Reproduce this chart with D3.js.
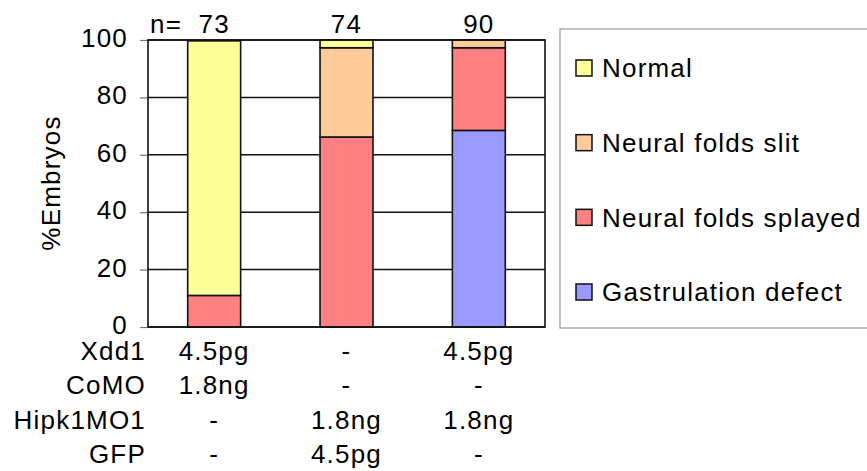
<!DOCTYPE html>
<html>
<head>
<meta charset="utf-8">
<script src="https://d3js.org/d3.v7.min.js"></script>
<style>
  body { margin: 0; background: #fff; }
  text { font-family: "Liberation Sans", Arial, sans-serif; fill: #000; letter-spacing: 1.2px; }
</style>
</head>
<body>
<svg id="chart"></svg>
<script>
// Data
const groups = ["A", "B", "C"];
const counts = [73, 74, 90];
const seriesNames = ["Gastrulation defect", "Neural folds splayed", "Neural folds slit", "Normal"];
const seriesColors = ["#9999ff", "#ff8080", "#ffcc99", "#ffff99"];
const gastrulation = [0, 0, 68.5];
const splayed = [11, 66.2, 28.8];
const slit = [0, 31.1, 2.7];
const normal = [88.7, 2.7, 0];
const rowLabels = ["Xdd1", "CoMO", "Hipk1MO1", "GFP"];
const rowValues = [
  ["4.5pg", "-", "4.5pg"],
  ["1.8ng", "-", "-"],
  ["-", "1.8ng", "1.8ng"],
  ["-", "4.5pg", "-"]
];
const yTicks = [0, 20, 40, 60, 80, 100];

const width = 867, height = 471;
const svg = d3.select("#chart").attr("width", width).attr("height", height);

const plot = { left: 148, right: 545, top: 40, bottom: 327 };

const x = d3.scaleBand()
  .domain(groups)
  .range([plot.left, plot.right])
  .paddingInner(0.6)
  .paddingOuter(0.3);

const y = d3.scaleLinear()
  .domain([0, 100])
  .range([plot.bottom, plot.top]);

// plot background + gridlines
svg.append("rect")
  .attr("x", plot.left).attr("y", plot.top)
  .attr("width", plot.right - plot.left).attr("height", plot.bottom - plot.top)
  .attr("fill", "#fff");

svg.append("g")
  .selectAll("line")
  .data(yTicks)
  .enter().append("line")
  .attr("x1", plot.left).attr("x2", plot.right)
  .attr("y1", d => y(d)).attr("y2", d => y(d))
  .attr("stroke", "#111").attr("stroke-width", 1.5);

// y axis
const yAxis = svg.append("g")
  .attr("transform", `translate(${plot.left},0)`)
  .call(d3.axisLeft(y).tickValues(yTicks).tickSize(8).tickPadding(12));
yAxis.select(".domain").remove();
yAxis.selectAll(".tick line").attr("stroke", "#777").attr("stroke-width", 1.2);
yAxis.selectAll(".tick text")
  .attr("font-size", 26).attr("dy", "0.25em").attr("y", 0)
  .style("font-family", "'Liberation Sans', Arial, sans-serif")
  .attr("fill", "#000");

// stacked bars
const table = groups.map((g, i) => ({
  group: g,
  "Gastrulation defect": gastrulation[i],
  "Neural folds splayed": splayed[i],
  "Neural folds slit": slit[i],
  "Normal": normal[i]
}));
const stack = d3.stack().keys(seriesNames)(table);
const color = d3.scaleOrdinal().domain(seriesNames).range(seriesColors);

svg.append("g")
  .selectAll("g")
  .data(stack)
  .enter().append("g")
  .attr("fill", d => color(d.key))
  .selectAll("rect")
  .data(d => d.filter(p => p[1] - p[0] > 0))
  .enter().append("rect")
  .attr("x", d => x(d.data.group))
  .attr("width", x.bandwidth())
  .attr("y", d => y(d[1]))
  .attr("height", d => y(d[0]) - y(d[1]))
  .attr("stroke", "#111")
  .attr("stroke-width", 1.6);

// frame
svg.append("rect")
  .attr("x", plot.left).attr("y", plot.top)
  .attr("width", plot.right - plot.left).attr("height", plot.bottom - plot.top)
  .attr("fill", "none").attr("stroke", "#111").attr("stroke-width", 1.6);

// y title
svg.append("text")
  .attr("transform", `translate(60, 183) rotate(-90)`)
  .attr("text-anchor", "middle")
  .attr("font-size", 26)
  .text("%Embryos");

// n= row
svg.append("text")
  .attr("x", 150).attr("y", 33)
  .attr("font-size", 26)
  .text("n=");
svg.append("g")
  .selectAll("text")
  .data(groups)
  .enter().append("text")
  .attr("x", d => x(d) + x.bandwidth() / 2)
  .attr("y", 33)
  .attr("text-anchor", "middle")
  .attr("font-size", 26)
  .text((d, i) => counts[i]);

// treatment table under axis
const rowY = d3.scalePoint().domain(rowLabels).range([360, 463]);

svg.append("g")
  .selectAll("text")
  .data(rowLabels)
  .enter().append("text")
  .attr("x", 146)
  .attr("y", d => rowY(d))
  .attr("text-anchor", "end")
  .attr("font-size", 26)
  .text(d => d);

rowLabels.forEach((r, ri) => {
  svg.append("g")
    .selectAll("text")
    .data(groups)
    .enter().append("text")
    .attr("x", d => x(d) + x.bandwidth() / 2)
    .attr("y", rowY(r))
    .attr("text-anchor", "middle")
    .attr("font-size", 26)
    .text((d, gi) => rowValues[ri][gi]);
});

// legend
const legend = svg.append("g");
legend.append("rect")
  .attr("x", 560).attr("y", 29)
  .attr("width", 330).attr("height", 299)
  .attr("fill", "#fff").attr("stroke", "#999").attr("stroke-width", 1.2);

const legendOrder = ["Normal", "Neural folds slit", "Neural folds splayed", "Gastrulation defect"];
const legendY = d3.scalePoint().domain(legendOrder).range([68, 292]);

const item = legend.selectAll(".item")
  .data(legendOrder)
  .enter().append("g")
  .attr("class", "item")
  .attr("transform", d => `translate(576, ${legendY(d)})`);

item.append("rect")
  .attr("x", 0).attr("y", -8)
  .attr("width", 16).attr("height", 16)
  .attr("fill", d => color(d))
  .attr("stroke", "#111").attr("stroke-width", 1.5);

item.append("text")
  .attr("x", 26).attr("dy", "0.36em")
  .attr("font-size", 26)
  .text(d => d);
</script>
</body>
</html>
